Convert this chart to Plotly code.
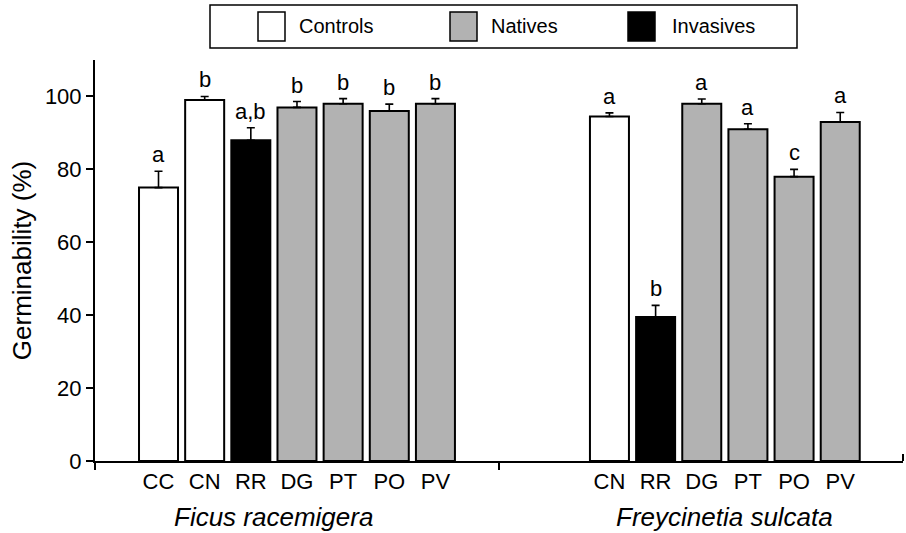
import plotly.graph_objects as go

# ---------------- data ----------------
ficus_labels = ["CC", "CN", "RR", "DG", "PT", "PO", "PV"]
ficus_values = [75.0, 99.0, 88.0, 97.0, 98.0, 96.0, 98.0]
ficus_errors = [4.5, 1.0, 3.4, 1.6, 1.4, 1.9, 1.4]
ficus_letters = ["a", "b", "a,b", "b", "b", "b", "b"]
ficus_groups = ["Controls", "Controls", "Invasives", "Natives", "Natives", "Natives", "Natives"]

frey_labels = ["CN", "RR", "DG", "PT", "PO", "PV"]
frey_values = [94.5, 39.5, 98.0, 91.0, 78.0, 93.0]
frey_errors = [1.0, 3.2, 1.3, 1.5, 2.0, 2.6]
frey_letters = ["a", "b", "a", "a", "c", "a"]
frey_groups = ["Controls", "Invasives", "Natives", "Natives", "Natives", "Natives"]

species = ["Ficus racemigera", "Freycinetia sulcata"]
legend_groups = ["Controls", "Natives", "Invasives"]
y_ticks = [0, 20, 40, 60, 80, 100]

# ---------------- layout helpers ----------------
FONT = "Arial, Liberation Sans, sans-serif"
group_offset = 9.77          # position of the second species block
x_lo, x_hi = -1.376, 16.13   # axis range
bar_w = 0.845
colors = {"Controls": "white", "Natives": "#b2b2b2", "Invasives": "black"}

pos = list(range(len(ficus_labels))) + [group_offset + i for i in range(len(frey_labels))]
labels = ficus_labels + frey_labels
values = ficus_values + frey_values
errors = ficus_errors + frey_errors
letters = ficus_letters + frey_letters
groups = ficus_groups + frey_groups

fig = go.Figure()
for g in legend_groups:
    idx = [i for i, gg in enumerate(groups) if gg == g]
    fig.add_trace(go.Bar(
        x=[pos[i] for i in idx],
        y=[values[i] for i in idx],
        width=bar_w,
        name=g,
        showlegend=False,
        marker=dict(color=colors[g], line=dict(color="black", width=2)),
        error_y=dict(type="data", array=[errors[i] for i in idx],
                     arrayminus=[0] * len(idx), symmetric=False,
                     color="black", thickness=1.6, width=4),
    ))

annotations = []
for p, v, e, t in zip(pos, values, errors, letters):
    annotations.append(dict(x=p, y=v + e, text=t, showarrow=False, xref="x", yref="y",
                            yanchor="bottom", yshift=2,
                            font=dict(family=FONT, size=22, color="black")))

species_pos = [2.5, group_offset + 2.5]
for sp, sx in zip(species, species_pos):
    annotations.append(dict(x=sx, y=0, xref="x", yref="paper", text=f"<i>{sp}</i>",
                            showarrow=False, yanchor="middle", yshift=-56,
                            font=dict(family=FONT, size=26, color="black")))

# ---- legend box drawn in paper coordinates (plot area = 808 x 401 px) ----
PW, PH = 808.0, 401.0
def px_x(v):   # pixel offset from plot-area left -> paper
    return v / PW
def px_y(v):   # pixel offset above plot-area top -> paper
    return 1 + v / PH

shapes = [dict(type="rect", xref="paper", yref="paper",
               x0=px_x(115), x1=px_x(702), y0=px_y(12), y1=px_y(55),
               line=dict(color="black", width=1.5), fillcolor="white", layer="above")]
sym_left = [163, 355, 533]
txt_left = [202, 394, 575]
for g, sx, tx in zip(legend_groups, sym_left, txt_left):
    shapes.append(dict(type="rect", xref="paper", yref="paper",
                       x0=px_x(sx), x1=px_x(sx + 27), y0=px_y(19), y1=px_y(48),
                       line=dict(color="black", width=1.5), fillcolor=colors[g], layer="above"))
    annotations.append(dict(x=px_x(tx), y=px_y(34), xref="paper", yref="paper",
                            text=g, showarrow=False, xanchor="left", yanchor="middle",
                            font=dict(family=FONT, size=20, color="black")))

# small upward end mark at the right end of the x axis
shapes.append(dict(type="line", xref="paper", yref="paper", x0=1, x1=1,
                   y0=0, y1=7 / PH, line=dict(color="black", width=2)))

fig.update_layout(
    width=906, height=533,
    margin=dict(l=95, r=3, t=60, b=72),
    paper_bgcolor="white", plot_bgcolor="white",
    barmode="overlay",
    font=dict(family=FONT, color="black"),
    showlegend=False,
    annotations=annotations,
    shapes=shapes,
    xaxis=dict(range=[x_lo, x_hi], tickmode="array", tickvals=pos, ticktext=labels,
               ticks="", showline=True, linecolor="black", linewidth=2,
               showgrid=False, zeroline=False, ticklabelstandoff=0,
               tickfont=dict(family=FONT, size=22, color="black"),
               minor=dict(tickmode="array", tickvals=[x_lo, (x_lo + x_hi) / 2],
                          ticks="outside", ticklen=7, tickwidth=2, tickcolor="black",
                          showgrid=False)),
    yaxis=dict(range=[0, 110], tickmode="array", tickvals=y_ticks,
               ticks="outside", ticklen=7, tickwidth=2, tickcolor="black",
               showline=True, linecolor="black", linewidth=2,
               showgrid=False, zeroline=False,
               tickfont=dict(family=FONT, size=22, color="black"),
               title=dict(text="Germinability (%)", standoff=6,
                          font=dict(family=FONT, size=26, color="black"))),
)

fig.write_html("out.html",
               config={"displayModeBar": False},
               post_script="document.body.style.margin='0px';document.body.style.overflow='hidden';")
